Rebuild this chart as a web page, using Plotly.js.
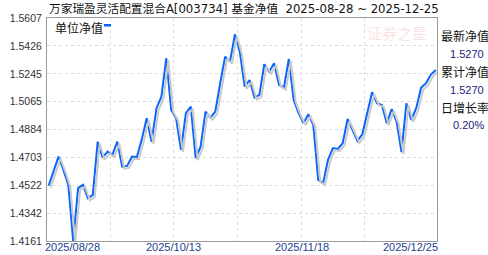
<!DOCTYPE html>
<html>
<head>
<meta charset="utf-8">
<script src="https://cdn.plot.ly/plotly-3.0.1.min.js"></script>
<style>html,body{margin:0;padding:0;background:#fff;}#chart{width:488px;height:255px;}</style>
</head>
<body>
<div id="chart"></div>
<script>
// ---- data ----
const titleText = '万家瑞盈灵活配置混合A[003734] 基金净值  2025-08-28 ~ 2025-12-25';
const seriesName = '单位净值';
const nav = [
  1.4520, 1.4611, 1.4708, 1.4622, 1.4525, 1.4161, 1.4504, 1.4525, 1.4439, 1.4460,
  1.4805, 1.4702, 1.4741, 1.4719, 1.4805, 1.4643, 1.4648, 1.4708, 1.4705, 1.4820,
  1.4957, 1.4805, 1.5022, 1.5097, 1.5346, 1.5011, 1.4957, 1.4752, 1.4990, 1.5032,
  1.4698, 1.4773, 1.5000, 1.4961, 1.5000, 1.5184, 1.5356, 1.5324, 1.5501, 1.5389,
  1.5162, 1.5205, 1.5091, 1.5108, 1.5307, 1.5259, 1.5314, 1.5173, 1.5155, 1.5341,
  1.5076, 1.4990, 1.4925, 1.4983, 1.4914, 1.4557, 1.4536, 1.4687, 1.4763, 1.4758,
  1.4795, 1.4953, 1.4881, 1.4810, 1.4853, 1.5000, 1.5126, 1.5054, 1.5043, 1.4925,
  1.5017, 1.4935, 1.4737, 1.5054, 1.4946, 1.5022, 1.5155, 1.5184, 1.5240, 1.5270
];
const yTickLabels = ['1.4161','1.4342','1.4522','1.4703','1.4884','1.5065','1.5245','1.5426','1.5607'];
const xTickLabels = ['2025/08/28','2025/10/13','2025/11/18','2025/12/25'];
const infoLabels = ['最新净值','累计净值','日增长率'];
const infoValues = ['1.5270','1.5270','0.20%'];
const watermark = '证券之星';

// ---- layout geometry ----
const W = 488, H = 255;
const L = 47, R = 51, T = 18, B = 14;
const pw = W - L - R, ph = H - T - B;
const firstOff = 1.7, step = 4.9;
const xr = [-firstOff / step, (pw - firstOff) / step];
const yMin = Number(yTickLabels[0]), yMax = Number(yTickLabels[yTickLabels.length - 1]);
const yr = [yMin, yMax];
const shX = 2 / step, shY = 2 * (yMax - yMin) / ph;
const gridX = [110.7, 173.7, 237.7, 301.7, 364.7].map(p => (p - L - firstOff) / step);
const xs = nav.map((_, i) => i);

const px2paperX = p => (p - L) / pw;
const px2paperY = p => (H - B - p) / ph;

const cjk = '"Noto Sans CJK SC", "Noto Sans", sans-serif';
const mixed = '"DejaVu Sans", "Noto Sans CJK SC", sans-serif';
const lat = '"Liberation Sans", Arial, sans-serif';

const traces = [
  {x: xs, y: nav, type: 'scatter', mode: 'lines', xaxis: 'x2', yaxis: 'y2',
   line: {color: '#c9c9c9', width: 2}, hoverinfo: 'skip', showlegend: false},
  {x: xs, y: nav, type: 'scatter', mode: 'lines', name: seriesName,
   line: {color: '#0a64ff', width: 2}, showlegend: false}
];

const annotations = [];
// legend text
annotations.push({xref: 'paper', yref: 'paper', x: px2paperX(53), y: px2paperY(27), xanchor: 'left', yanchor: 'middle',
  text: seriesName, showarrow: false, font: {family: cjk, size: 12, color: '#111'}});
// watermark
annotations.push({xref: 'paper', yref: 'paper', x: px2paperX(397), y: px2paperY(33), xanchor: 'center', yanchor: 'middle',
  text: watermark, showarrow: false, font: {family: cjk, size: 15, color: 'rgba(235,120,120,0.22)'}});
// x tick labels
const xlFont = {family: lat, size: 11, color: '#23408e'};
annotations.push({xref: 'paper', yref: 'paper', x: 0, y: 0, xanchor: 'left', yanchor: 'top', xshift: -3, yshift: 1,
  text: xTickLabels[0], showarrow: false, font: xlFont, borderpad: 0});
annotations.push({xref: 'x', yref: 'paper', x: gridX[1], y: 0, xanchor: 'center', yanchor: 'top', yshift: 1,
  text: xTickLabels[1], showarrow: false, font: xlFont, borderpad: 0});
annotations.push({xref: 'x', yref: 'paper', x: gridX[3], y: 0, xanchor: 'center', yanchor: 'top', yshift: 1,
  text: xTickLabels[2], showarrow: false, font: xlFont, borderpad: 0});
annotations.push({xref: 'paper', yref: 'paper', x: 1, y: 0, xanchor: 'right', yanchor: 'top', xshift: 2, yshift: 1,
  text: xTickLabels[3], showarrow: false, font: xlFont, borderpad: 0});
// right info panel
infoLabels.forEach((t, k) => {
  annotations.push({xref: 'paper', yref: 'paper', x: px2paperX(439), y: px2paperY(35 + 36 * k), xanchor: 'left', yanchor: 'middle',
    text: t, showarrow: false, font: {family: cjk, size: 12, color: '#111'}});
  annotations.push({xref: 'paper', yref: 'paper', x: px2paperX(486), y: px2paperY(53.5 + 36 * k), xanchor: 'right', yanchor: 'middle',
    text: infoValues[k], showarrow: false, font: {family: lat, size: 11, color: '#1c1c80'}});
});

const layout = {
  width: W, height: H,
  margin: {l: L, r: R, t: T, b: B, pad: 0},
  paper_bgcolor: '#fff', plot_bgcolor: '#fff',
  showlegend: false,
  title: {text: titleText, x: 49 / W, xanchor: 'left', xref: 'container', y: 1 - 8.5 / H, yanchor: 'middle', yref: 'container',
    font: {family: mixed, size: 11.7, color: '#111'}},
  xaxis: {range: xr, tickmode: 'array', tickvals: gridX, showticklabels: false, ticks: '',
    showgrid: true, gridcolor: '#dcdcdc', griddash: '3px,3px', gridwidth: 1,
    showline: true, mirror: true, linecolor: '#9a9a9a', linewidth: 1, zeroline: false, fixedrange: true},
  yaxis: {range: yr, tickmode: 'array', tickvals: yTickLabels.map(Number), ticktext: yTickLabels, ticks: '',
    tickfont: {family: lat, size: 10.5, color: '#333'}, ticklabelstandoff: 2,
    showgrid: true, gridcolor: '#dcdcdc', griddash: '3px,3px', gridwidth: 1,
    showline: true, mirror: true, linecolor: '#9a9a9a', linewidth: 1, zeroline: false, fixedrange: true},
  xaxis2: {overlaying: 'x', range: [xr[0] - shX, xr[1] - shX], visible: false, showgrid: false, fixedrange: true},
  yaxis2: {overlaying: 'y', range: [yr[0] + shY, yr[1] + shY], visible: false, showgrid: false, fixedrange: true},
  annotations: annotations,
  shapes: [
    {type: 'rect', xref: 'paper', yref: 'paper', x0: px2paperX(104), x1: px2paperX(111), y0: px2paperY(26.5), y1: px2paperY(24),
     fillcolor: '#0a64ff', line: {width: 0}}
  ]
};

Plotly.newPlot('chart', traces, layout, {displayModeBar: false, staticPlot: true});
</script>
</body>
</html>
